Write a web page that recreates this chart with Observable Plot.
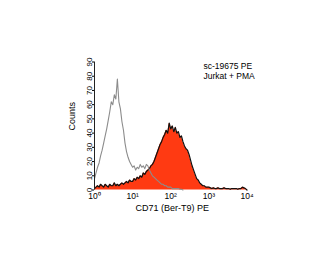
<!DOCTYPE html>
<html><head><meta charset="utf-8">
<script src="https://cdn.jsdelivr.net/npm/d3@7"></script>
<script src="https://cdn.jsdelivr.net/npm/@observablehq/plot@0.6"></script>
<style>
html,body{margin:0;padding:0;background:#fff;}
</style></head><body><div id="chart"></div>
<script>
// histogram channels: one value every 0.04 decade starting at 10^0
const logStep = 0.04;
const controlCounts = [8,12,16,19,24,28,33,38,43,49,55,62,60,67,64,78,62,57,48,42,33,27,23,20,18,16,17,14,16,15,18,16,17,15,18,17,14,12,10,9,8,7,6,5,4,4,3,3,2,2,2,1,1,1,1,1,0.5,0.5,0];
const stainedCounts = [1,2,3,2,4,3,2,4,3,2,4,3,3,5,3,4,3,4,5,4,5,6,5,7,6,6,8,7,9,8,10,9,12,11,13,14,15,17,18,20,23,26,29,32,34,37,39,42,40,47,43,45,41,44,40,41,37,38,34,31,29,28,25,21,17,14,11,8,7,5,4,3,3,2,2,2,1.5,1,1.5,1,1,1.5,1,1,1,1.5,1,1,1,0.5,1,1,1,1,0.5,1,1,2,1.5,1,0];
const yTicks = [0,10,20,30,40,50,60,70,80,90];
const xTicks = [1,10,100,1000,10000];
const xTickLabels = ["10⁰","10¹","10²","10³","10⁴"];
const titleLines = ["sc-19675 PE","Jurkat + PMA"];
const xLabel = "CD71 (Ber-T9) PE";
const yLabel = "Counts";

const control = controlCounts.map((c,i)=>({x: Math.pow(10, i*logStep), y: c}));
const stained = stainedCounts.map((c,i)=>({x: Math.pow(10, i*logStep), y: c}));

const font = "'Liberation Sans Narrow','Liberation Sans',Arial,sans-serif";
const chart = Plot.plot({
  width: 320, height: 275,
  marginLeft: 94, marginRight: 73.5, marginTop: 61.5, marginBottom: 85.5,
  x: {type: "log", domain: [1, 10000]},
  y: {domain: [0, 90]},
  style: {fontFamily: font, fontSize: "8px", background: "#fff", color: "#000"},
  marks: [
    Plot.areaY(stained, {x: "x", y: "y", fill: "#ff3a12"}),
    Plot.lineY(stained, {x: "x", y: "y", stroke: "#111", strokeWidth: 1.2}),
    Plot.lineY(control, {x: "x", y: "y", stroke: "#8c8c8c", strokeWidth: 1.1}),
    Plot.axisX({ticks: xTicks, tickFormat: d => xTickLabels[xTicks.indexOf(d)], tickSize: 0, tickPadding: 3, label: null, fontSize: 8.5}),
    Plot.axisY({ticks: yTicks, tickRotate: -90, tickSize: 2, tickPadding: 1, label: null}),
    Plot.ruleX([1], {y1: 0, y2: 90, stroke: "#222", strokeWidth: 1}),
    Plot.text([yLabel], {frameAnchor: "left", dx: -22, dy: 4.5, rotate: -90, fontSize: 9}),
    Plot.text([xLabel], {frameAnchor: "bottom", dx: 1.5, dy: 20.5, fontSize: 9}),
    Plot.text([titleLines[0]], {frameAnchor: "top-right", textAnchor: "start", dx: -43.5, dy: 0.5, fontSize: 8.5}),
    Plot.text([titleLines[1]], {frameAnchor: "top-right", textAnchor: "start", dx: -43.5, dy: 10.5, fontSize: 8.5})
  ]
});
document.getElementById("chart").appendChild(chart);
</script></body></html>
